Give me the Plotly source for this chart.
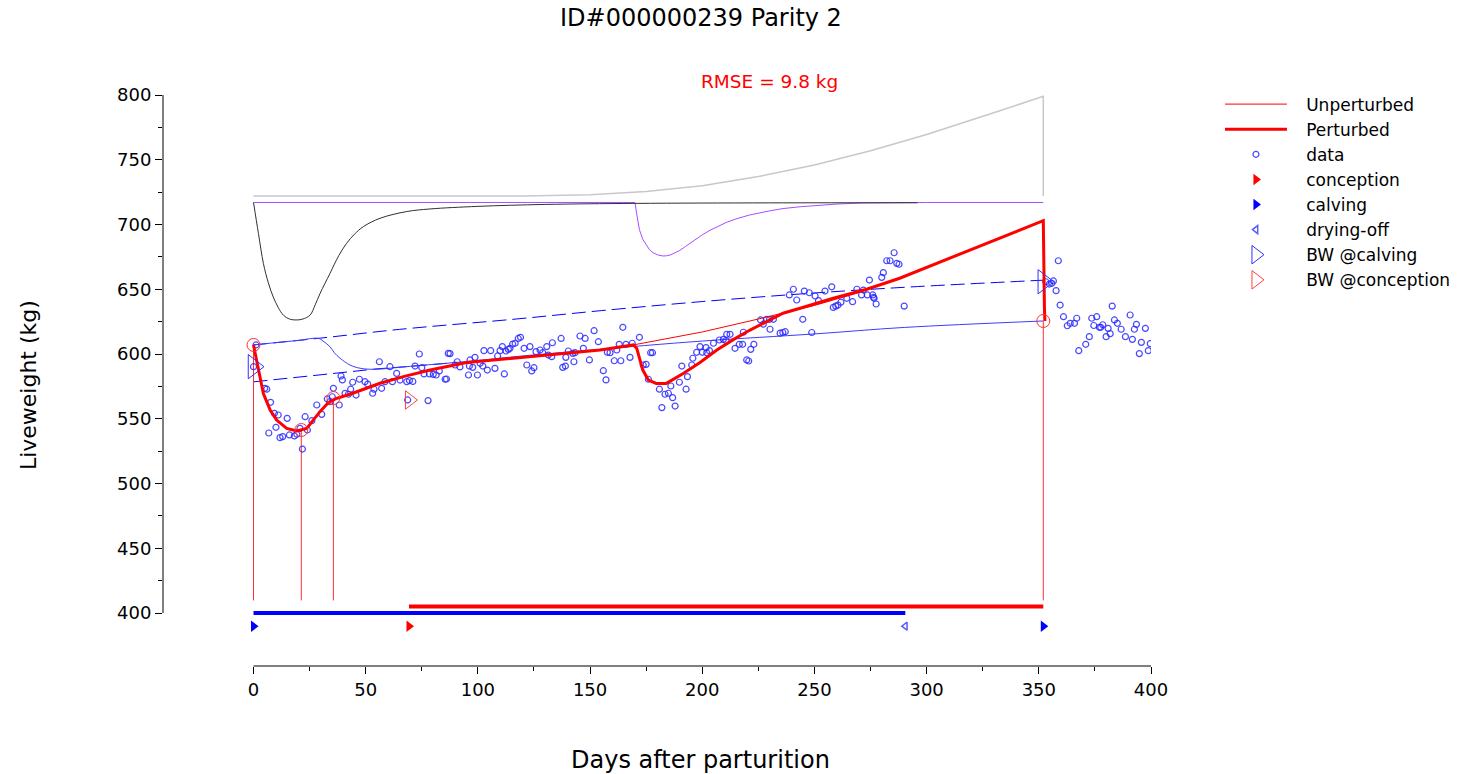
import plotly.graph_objects as go

# ---------------- model curves (days after parturition, kg) ----------------
perturbed_days = [0, 2.2, 4.4, 7.4, 10.3, 14.8, 19.3, 23.7, 26.7, 29.6, 33.4, 37.1, 43, 49,
                  56.4, 66.8, 78.7, 95, 124.7, 154.5, 169.3, 170.8, 173.5, 176, 179.5, 184,
                  191.5, 199, 206.5, 214, 221.3, 228.7, 236, 243.6, 258.4, 273.3, 288, 352,
                  352.1, 352.5, 352.7]
perturbed_kg = [607, 587.6, 569.5, 556.8, 549, 542.5, 540.5, 542.5, 549, 555.5, 562.5, 565.8,
                568.9, 572.8, 577.4, 582.5, 587.6, 593.4, 598, 603.1, 607, 604.4, 587.6, 579.9,
                577.3, 577.3, 585, 593.4, 603.1, 611.3, 618.5, 625, 631.5, 635.3, 643, 650,
                658.5, 703, 672, 636, 625.5]

unperturbed_days = [0, 2.2, 4.4, 7.4, 10.3, 14.8, 19.3, 23.7, 26.7, 29.6, 33.4, 37.1, 43, 49,
                    56.4, 66.8, 78.7, 95, 124.7, 154.5, 169.3, 180, 200, 225, 250, 270, 288,
                    352, 352.1, 352.5, 352.7]
unperturbed_kg = [607, 587.6, 569.5, 556.8, 549, 542.5, 540.5, 542.5, 549, 555.5, 562.5, 565.8,
                  568.9, 572.8, 577.4, 582.5, 587.6, 593.4, 598, 603.1, 607, 610.5, 617, 627,
                  637.5, 647.5, 658.5, 703, 672, 636, 625.5]

# potential / reserve curves drawn above the weight trajectory
gray_days = [0, 120, 150, 175, 200, 225, 250, 275, 300, 320, 333, 352, 352]
gray_kg = [722, 722, 723, 725.5, 730, 737, 746, 757, 769.5, 780.5, 788, 799, 722]

purple_days = [0, 170, 171, 172, 173.5, 175, 176.5, 178, 180, 182.4, 184, 186, 188, 190, 192.5,
               195, 197.5, 200, 203.5, 207, 211, 215, 221, 230, 236, 243.6, 252, 260, 271, 300,
               352]
purple_kg = [717, 717, 706, 696, 688.5, 684, 680.5, 678.3, 676.6, 675.7, 675.8, 676.6, 678,
             680, 683, 686, 689.2, 692, 695.6, 698.6, 701.8, 704.3, 707.3, 710.5, 712.3, 713.7,
             715, 715.8, 716.6, 717, 717]

black_days = [0, 2.2, 4.4, 6.6, 8.8, 11, 13.3, 16, 19.3, 22, 25.2, 27.5, 29.7, 34.1, 38, 41.5,
              45, 49, 56.4, 68.3, 78.7, 100, 130, 170, 230, 296]
black_kg = [717, 693, 670, 655, 644, 636, 630, 627, 626.3, 627, 630, 638, 646.9, 662.3, 676,
            685.5, 692.5, 698.4, 704.8, 710, 712, 714, 715.5, 716.3, 716.7, 716.8]

# body-weight reference lines
bw_upper_days = [0, 30, 65, 117, 155, 200, 245, 290, 352]
bw_upper_kg = [607, 612.3, 619, 627, 633.5, 640.5, 646.5, 651.5, 657]

bw_lower_days = [0, 20, 38.6, 55, 70, 90]
bw_lower_kg = [578.5, 582.3, 585.9, 588.5, 590.5, 593.3]

bw_track_days = [0, 10, 20, 28.9, 31, 34.1, 36, 38.6, 43, 47.5, 53.4, 70, 100, 117, 150, 200,
                 250, 290, 352]
bw_track_kg = [607, 608.8, 610.5, 612.1, 610, 605.6, 601, 596.7, 591.5, 589, 588.2, 590.5,
               595, 598, 603, 610, 615.5, 620.5, 625.5]

# ---------------- events ----------------
change_days = [0, 21.3, 35.6, 352]
change_kg = [607, 541.3, 566, 625.5]
stem_base_kg = 409.7

calving_days = [0, 352]
conception_days = [69.3]
dryoff_days = [290.5]
event_row_kg = 389.8

bw_calving_days = [0, 352]
bw_calving_kg = [590.2, 655.8]
bw_conception_days = [69.5]
bw_conception_kg = [564.5]

lactation_span = [0, 290.5]
lactation_kg = 400
pregnancy_span = [69.3, 352]
pregnancy_kg = 405

rmse_kg = 9.8

# ---------------- weighings ----------------
data_days = [0, 1.1, 5, 5.9, 6.8, 7.6, 9.3, 10, 11, 11.8, 13, 15, 16, 18.2, 19.3, 20.7, 21.8,
             23, 24, 26, 28.2, 30.4, 32.9, 34.1, 35.1, 35.6, 38.2, 39, 39.6, 40.8, 42.3, 43.3,
             44.2, 45.7, 47.2, 49.7, 50.9, 53.1, 53.7, 56.1, 57.1, 58.6, 60.8, 61.9, 63.8, 65.3,
             68.3, 68.7, 69.5, 71, 72, 73.9, 75, 76, 77.8, 78.4, 80.1, 81.4, 82.8, 85.4, 86,
             86.8, 87.6, 89.8, 90.8, 92, 95.8, 96.2, 96.5, 97.7, 98.7, 99.8, 101, 102.2, 102.7,
             104.2, 105.7, 107.6, 108.8, 109.9, 110.9, 111.8, 112.5, 113.6, 114.3, 115.5, 116.6,
             118, 119, 120.6, 121.8, 123.2, 124, 125, 125.9, 127.7, 128.9, 130.7, 131.4, 132.9,
             133.2, 137.1, 137.8, 139, 139.2, 140.3, 142.3, 142.8, 143.3, 145.5, 147, 147.8,
             149.7, 151.8, 153.7, 155.9, 157.1, 157.7, 158.9, 160.8, 161.9, 163, 163.7, 164.6,
             166, 167.8, 168.8, 172, 173.7, 175, 176, 177, 177.8, 180.9, 182, 183.4, 184.9, 186,
             186.8, 187.9, 189.8, 190.9, 192.8, 193.4, 195.3, 195.8, 197.5, 199, 200, 201.7, 202,
             203.2, 205, 207.6, 209.4, 210.6, 210.9, 212.4, 214.6, 216.5, 218, 218.3, 219.8,
             220.7, 221.6, 223, 226, 227.2, 228.7, 230, 230.2, 231.7, 234.7, 235.9, 237, 238.8,
             240.6, 242.1, 244.8, 245.5, 247.7, 248.8, 250.3, 251.8, 254.7, 257.7, 258.4, 259.5,
             260.5, 261.8, 264.4, 267, 268.9, 271, 271.8, 273.6, 274.5, 276, 276.3, 276.6, 277.5,
             280, 280.7, 282.2, 283.7, 285.5, 286.7, 287.7, 290, 353.1, 354.7, 355.8, 356.5,
             357.7, 358.7, 359.5, 361, 362.7, 364, 365.9, 366.9, 367.8, 370.9, 372.5, 373.6,
             374.5, 375.8, 377, 377.6, 378.5, 380, 380.9, 381.8, 382.7, 383.7, 385, 386.7, 388.6,
             390.7, 391.7, 392.6, 393.5, 394.8, 395.7, 397.5, 398.8, 399.7]
data_kg = [590.2, 607, 573.5, 572.8, 539, 562.7, 554.2, 543.4, 552.9, 535.4, 536.2, 550.3,
           537.5, 536.7, 538, 542.6, 526.6, 551.6, 541.3, 548.5, 560.6, 553.4, 565.3, 563.2, 567,
           573.5, 560.6, 583, 580, 569.6, 568.9, 572.8, 578.2, 568.3, 580.5, 578.6, 576.8, 569.7,
           572.8, 594, 573.5, 578.6, 590.2, 578.6, 585, 579.9, 578.6, 564.5, 579.5, 578.8, 590.7,
           600, 589.4, 584.6, 564, 584.6, 584.3, 583.8, 586.9, 580.5, 580.7, 600.5, 600.3, 591.5,
           594, 590, 583.8, 590.7, 595.4, 589.7, 597.4, 583.8, 592.8, 590.7, 602.6, 587.6, 602.6,
           588.9, 598.5, 602.6, 605.7, 584.6, 602.3, 603.6, 604.4, 607.7, 608.3, 612, 612.9,
           604.4, 591.5, 605.7, 586.9, 589.4, 601.8, 603.1, 601, 605.7, 599.2, 597.9, 608.7, 612,
           589.7, 590.7, 597.4, 602.3, 600.5, 594, 601, 613.9, 604.4, 612, 595.4, 618, 609.5,
           587.1, 580, 601.3, 601, 594.8, 603.1, 607.5, 594.8, 620.6, 607.5, 597.4, 608.3, 612.9,
           591.5, 592, 580.5, 601, 601, 572.8, 558.6, 568.9, 569.7, 575.3, 566.3, 559.8, 578.2,
           590.7, 572.8, 582.5, 591.5, 596.7, 601.3, 605.7, 601.3, 604.9, 601, 602.6, 608.3,
           610.8, 611.3, 610.3, 615.2, 615.2, 604.4, 607.5, 607.5, 616.8, 595.4, 594.6, 603.6,
           607.5, 626.3, 623, 626.8, 626.8, 619.1, 626.8, 616.1, 616.6, 617.2, 645.6, 650, 641.7,
           626.8, 648.6, 647.3, 616.6, 644.8, 641.2, 648.6, 651.9, 636, 637, 637.8, 640, 643,
           640.4, 650, 645.6, 649.4, 645.6, 657.1, 645.6, 643.8, 643, 638.6, 659.2, 662.8, 672,
           672, 678.2, 670, 669.3, 637, 655.8, 654, 654.6, 656.4, 648.9, 672, 637.8, 628.8, 621.8,
           623.7, 623.7, 627.6, 602.6, 607.5, 613.4, 627.6, 622, 628.8, 620.6, 620.6, 622.6,
           613.4, 619.8, 615.7, 637, 626.3, 623.7, 619.1, 613.4, 630.1, 611.3, 619.1, 622.9,
           600.3, 609, 619.8, 602.6, 608]

# ---------------- axes ----------------
x_ticks = [0, 50, 100, 150, 200, 250, 300, 350, 400]
x_minor = [25, 75, 125, 175, 225, 275, 325, 375]
y_ticks = [400, 450, 500, 550, 600, 650, 700, 750, 800]
y_minor = [425, 475, 525, 575, 625, 675, 725, 775]
x_range = [-40.34, 400]
y_range = [359.07, 800]

RED = "#ff0000"
BLUE = "#0000ff"
FONT = "DejaVu Sans"
PAD = "\u00a0\u00a0\u2009"

fig = go.Figure()


def line(x, y, color, width=1, dash=None, name=None, legend=False, rank=None, shape="linear"):
    fig.add_trace(go.Scatter(
        x=x, y=y, mode="lines", name=name, showlegend=legend, legendrank=rank,
        line=dict(color=color, width=width, dash=dash, shape=shape),
        hoverinfo="skip"))


# background curves
line(gray_days, gray_kg, "#c8c8c8", 1.5)
line(purple_days, purple_kg, "#a64dff", 1)
line(black_days, black_kg, "#303030", 1, shape="spline")

# body-weight reference lines
line(bw_upper_days, bw_upper_kg, BLUE, 1, dash="14px,6px", shape="spline")
line(bw_lower_days, bw_lower_kg, BLUE, 1, dash="14px,6px")
line(bw_track_days, bw_track_kg, "#3c3cff", 1, shape="spline")

# stems below the change points
stem_x, stem_y = [], []
for d, w in zip(change_days, change_kg):
    stem_x += [d, d, None]
    stem_y += [w, stem_base_kg, None]
line(stem_x, stem_y, "#ff3030", 1)

# weighings
fig.add_trace(go.Scatter(
    x=data_days, y=data_kg, mode="markers", name=PAD + "data", legendrank=3,
    marker=dict(symbol="circle-open", size=6, color="rgba(40,40,255,0.85)",
                line=dict(width=1.2, color="rgba(40,40,255,0.85)")),
    hoverinfo="skip"))

# weight trajectories
line(unperturbed_days, unperturbed_kg, RED, 1, name=PAD + "Unperturbed", legend=True, rank=1)
line(perturbed_days, perturbed_kg, RED, 3, name=PAD + "Perturbed", legend=True, rank=2)

# change-point circles
fig.add_trace(go.Scatter(
    x=change_days, y=change_kg, mode="markers", showlegend=False,
    marker=dict(symbol="circle-open", size=13, color="#ff3030", line=dict(width=1)),
    hoverinfo="skip"))

# lactation and pregnancy bars
line(lactation_span, [lactation_kg] * 2, BLUE, 4)
line(pregnancy_span, [pregnancy_kg] * 2, RED, 4)

# event markers
fig.add_trace(go.Scatter(
    x=conception_days, y=[event_row_kg] * len(conception_days), mode="markers",
    name=PAD + "conception", legendrank=4,
    marker=dict(symbol="triangle-right", size=10, color=RED), hoverinfo="skip"))
fig.add_trace(go.Scatter(
    x=calving_days, y=[event_row_kg] * len(calving_days), mode="markers",
    name=PAD + "calving", legendrank=5,
    marker=dict(symbol="triangle-right", size=10, color=BLUE), hoverinfo="skip"))
fig.add_trace(go.Scatter(
    x=dryoff_days, y=[event_row_kg] * len(dryoff_days), mode="markers",
    name=PAD + "drying-off", legendrank=6,
    marker=dict(symbol="triangle-left-open", size=7, color="#5a5aff", line=dict(width=1.5)),
    hoverinfo="skip"))
fig.add_trace(go.Scatter(
    x=bw_calving_days, y=bw_calving_kg, mode="markers", name=PAD + "BW @calving",
    legendrank=7,
    marker=dict(symbol="triangle-right-open", size=21, color="#3030ff", line=dict(width=1)),
    hoverinfo="skip"))
fig.add_trace(go.Scatter(
    x=bw_conception_days, y=bw_conception_kg, mode="markers", name=PAD + "BW @conception",
    legendrank=8,
    marker=dict(symbol="triangle-right-open", size=16, color="#ff4040", line=dict(width=1)),
    hoverinfo="skip"))

axis_font = dict(family=FONT, size=18, color="black")
fig.update_xaxes(
    range=x_range, tickvals=x_ticks, ticktext=[str(v) for v in x_ticks],
    ticks="outside", ticklen=7, tickcolor="black", tickwidth=1,
    minor=dict(tickvals=x_minor, ticks="outside", ticklen=4, tickcolor="black"),
    showgrid=False, zeroline=False, showline=False, tickfont=axis_font)
fig.update_yaxes(
    range=y_range, tickvals=y_ticks, ticktext=[str(v) for v in y_ticks],
    ticks="outside", ticklen=7, tickcolor="black", tickwidth=1,
    minor=dict(tickvals=y_minor, ticks="outside", ticklen=4, tickcolor="black"),
    showgrid=False, zeroline=False, showline=False, tickfont=axis_font)

# axis lines spanning only the labelled range
fig.add_shape(type="line", xref="paper", yref="y", x0=0, x1=0,
              y0=y_ticks[0], y1=y_ticks[-1], line=dict(color="black", width=1))
fig.add_shape(type="line", xref="x", yref="paper", x0=x_ticks[0], x1=x_ticks[-1],
              y0=0, y1=0, line=dict(color="black", width=1))

fig.update_layout(
    width=1466, height=774,
    margin=dict(l=163, r=315, t=95, b=108, autoexpand=False),
    paper_bgcolor="white", plot_bgcolor="white",
    font=dict(family=FONT, color="black"),
    title=dict(text="ID#000000239 Parity 2", xref="paper", x=0.5445, xanchor="center",
               yref="container", y=1 - 18 / 774, yanchor="middle",
               font=dict(family=FONT, size=24, color="black")),
    legend=dict(x=1.0698, y=1.0148, xanchor="left", yanchor="top",
                font=dict(family=FONT, size=17, color="black"),
                itemwidth=62, bgcolor="rgba(0,0,0,0)", tracegroupgap=0),
    annotations=[
        dict(text=f"RMSE = {rmse_kg} kg", xref="paper", yref="paper", x=0.614, y=1.0228,
             xanchor="center", yanchor="middle", showarrow=False,
             font=dict(family=FONT, size=18.5, color=RED)),
        dict(text="Days after parturition", xref="paper", yref="paper", x=0.5445, y=-0.1646,
             xanchor="center", yanchor="middle", showarrow=False,
             font=dict(family=FONT, size=24, color="black")),
        dict(text="Liveweight (kg)", xref="paper", yref="paper", x=-0.1366, y=0.492,
             xanchor="center", yanchor="middle", showarrow=False, textangle=-90,
             font=dict(family=FONT, size=22, color="black")),
    ],
)

fig.write_html("out.html")
